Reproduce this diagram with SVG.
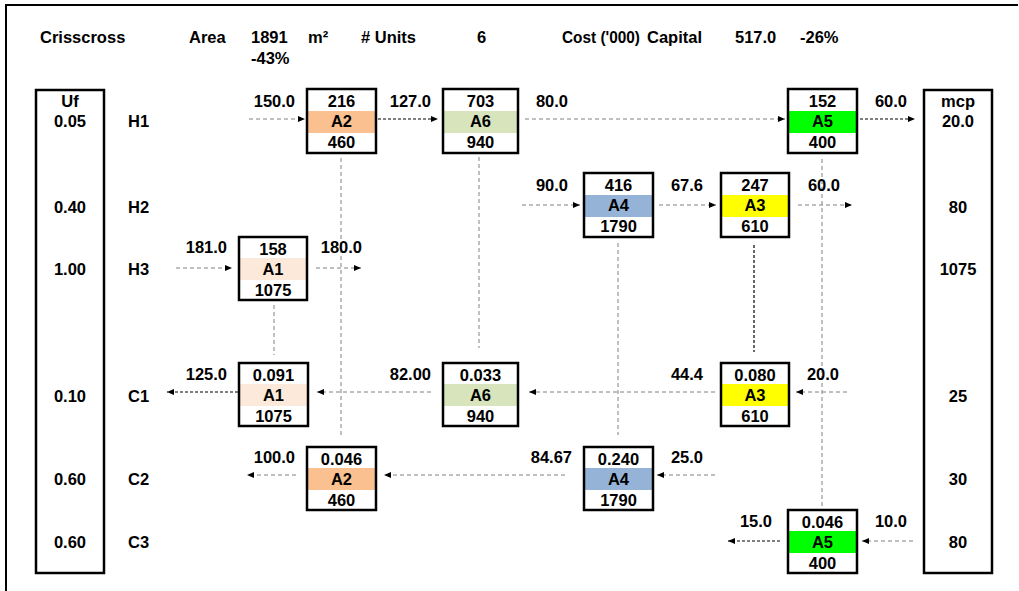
<svg xmlns="http://www.w3.org/2000/svg" width="1019" height="591" viewBox="0 0 1019 591">
<defs>
<marker id="ah" viewBox="0 0 7 6" markerWidth="7" markerHeight="6" refX="7" refY="3" orient="auto" markerUnits="userSpaceOnUse">
<path d="M0,0 L7,3 L0,6 z" fill="#000"/>
</marker>
<style>
text{font-family:"Liberation Sans",Arial,sans-serif;font-weight:bold;font-size:16.5px;fill:#000}
.c{text-anchor:middle}
.e{text-anchor:end}
.box{fill:none;stroke:#000;stroke-width:2.5}
.col{fill:#fff;stroke:#000;stroke-width:2.5}
.g{fill:none;stroke:#808080;stroke-width:1;stroke-dasharray:4 3}
.d{fill:none;stroke:#000;stroke-width:1.2;stroke-dasharray:3 2}
.arr{marker-end:url(#ah)}
</style>
</defs>
<rect width="1019" height="591" fill="#fff"/>
<path d="M6,591 V5 H1018" fill="none" stroke="#000" stroke-width="2"/>

<g id="header">
<text x="40" y="43">Crisscross</text>
<text x="189" y="43">Area</text>
<text x="251" y="43">1891</text>
<text x="251" y="64">-43%</text>
<text x="308" y="43">m²</text>
<text x="361" y="43"># Units</text>
<text x="477" y="43">6</text>
<text x="562" y="43" textLength="78" lengthAdjust="spacingAndGlyphs">Cost ('000)</text>
<text x="647" y="43">Capital</text>
<text x="735" y="43">517.0</text>
<text x="800" y="43">-26%</text>
</g>

<g id="uf-column">
<rect class="col" x="36" y="90" width="68" height="483"/>
<text class="c" x="70" y="107">Uf</text>
<text class="c" x="70" y="127">0.05</text>
<text class="c" x="70" y="213">0.40</text>
<text class="c" x="70" y="275">1.00</text>
<text class="c" x="70" y="402">0.10</text>
<text class="c" x="70" y="485">0.60</text>
<text class="c" x="70" y="548">0.60</text>
</g>

<g id="stream-labels">
<text x="128" y="127">H1</text>
<text x="128" y="213">H2</text>
<text x="128" y="275">H3</text>
<text x="128" y="402">C1</text>
<text x="128" y="485">C2</text>
<text x="128" y="548">C3</text>
</g>

<g id="mcp-column">
<rect class="col" x="924" y="90" width="68" height="483"/>
<text class="c" x="958" y="107">mcp</text>
<text class="c" x="958" y="127">20.0</text>
<text class="c" x="958" y="213">80</text>
<text class="c" x="958" y="275">1075</text>
<text class="c" x="958" y="402">25</text>
<text class="c" x="958" y="485">30</text>
<text class="c" x="958" y="548">80</text>
</g>

<g id="connectors">
<path class="g" d="M341,158 V438"/>
<path class="g" d="M274,305 V355"/>
<path class="g" d="M479,157 V348"/>
<path class="g" d="M618,243 V435"/>
<path class="d" d="M754,245 V352"/>
<path class="g" d="M822,159 V506"/>

<path class="g arr" d="M249,119 H305"/>
<path class="d arr" d="M378,119 H438"/>
<path class="g arr" d="M525,119 H785"/>
<path class="d arr" d="M860,119 H915"/>

<path class="g arr" d="M522,205 H580"/>
<path class="g arr" d="M659,205 H716"/>
<path class="g arr" d="M798,205 H852"/>

<path class="g arr" d="M176,268 H232"/>
<path class="g arr" d="M316,268 H361"/>

<path class="d arr" d="M238,392 H167"/>
<path class="g arr" d="M431,392 H317"/>
<path class="g arr" d="M715,392 H529"/>
<path class="g arr" d="M847,392 H796"/>

<path class="g arr" d="M296,475 H247"/>
<path class="g arr" d="M565,475 H384"/>
<path class="g arr" d="M715,475 H657"/>

<path class="d arr" d="M780,541 H728"/>
<path class="g arr" d="M913,541 H862"/>
</g>

<g id="flow-labels">
<text class="e" x="295" y="107">150.0</text>
<text class="e" x="431" y="107">127.0</text>
<text class="e" x="568" y="107">80.0</text>
<text class="e" x="907" y="107">60.0</text>
<text class="e" x="568" y="191">90.0</text>
<text class="e" x="703" y="191">67.6</text>
<text class="e" x="840" y="191">60.0</text>
<text class="e" x="227" y="253">181.0</text>
<text class="e" x="362" y="253">180.0</text>
<text class="e" x="227" y="380">125.0</text>
<text class="e" x="431" y="380">82.00</text>
<text class="e" x="703" y="380">44.4</text>
<text class="e" x="839" y="380">20.0</text>
<text class="e" x="295" y="463">100.0</text>
<text class="e" x="572" y="463">84.67</text>
<text class="e" x="703" y="463">25.0</text>
<text class="e" x="772" y="527">15.0</text>
<text class="e" x="907" y="527">10.0</text>
</g>

<g id="A2-hot">
<rect x="307" y="89" width="69" height="64" fill="#fff"/>
<rect x="307" y="111" width="69" height="22" fill="#FAC090"/>
<rect class="box" x="307" y="89" width="69" height="64"/>
<text class="c" x="341.5" y="107">216</text>
<text class="c" x="341.5" y="127">A2</text>
<text class="c" x="341.5" y="148">460</text>
</g>
<g id="A6-hot">
<rect x="443" y="89" width="75" height="64" fill="#fff"/>
<rect x="443" y="111" width="75" height="22" fill="#D8E4BC"/>
<rect class="box" x="443" y="89" width="75" height="64"/>
<text class="c" x="480.5" y="107">703</text>
<text class="c" x="480.5" y="127">A6</text>
<text class="c" x="480.5" y="148">940</text>
</g>
<g id="A5-hot">
<rect x="788" y="89" width="69" height="64" fill="#fff"/>
<rect x="788" y="111" width="69" height="22" fill="#00FF00"/>
<rect class="box" x="788" y="89" width="69" height="64"/>
<text class="c" x="822.5" y="107">152</text>
<text class="c" x="822.5" y="127">A5</text>
<text class="c" x="822.5" y="148">400</text>
</g>
<g id="A4-hot">
<rect x="584" y="173" width="69" height="64" fill="#fff"/>
<rect x="584" y="195" width="69" height="22" fill="#95B3D7"/>
<rect class="box" x="584" y="173" width="69" height="64"/>
<text class="c" x="618.5" y="191">416</text>
<text class="c" x="618.5" y="211">A4</text>
<text class="c" x="618.5" y="232">1790</text>
</g>
<g id="A3-hot">
<rect x="721" y="173" width="68" height="64" fill="#fff"/>
<rect x="721" y="195" width="68" height="22" fill="#FFFF00"/>
<rect class="box" x="721" y="173" width="68" height="64"/>
<text class="c" x="755" y="191">247</text>
<text class="c" x="755" y="211">A3</text>
<text class="c" x="755" y="232">610</text>
</g>
<g id="A1-hot">
<rect x="239" y="237" width="68" height="63" fill="#fff"/>
<rect x="239" y="258" width="68" height="22" fill="#FDE9D9"/>
<rect class="box" x="239" y="237" width="68" height="63"/>
<text class="c" x="273" y="255">158</text>
<text class="c" x="273" y="275">A1</text>
<text class="c" x="273" y="296">1075</text>
</g>

<g id="A1-cold">
<rect x="239" y="363" width="69" height="63" fill="#fff"/>
<rect x="239" y="384" width="69" height="22" fill="#FDE9D9"/>
<rect class="box" x="239" y="363" width="69" height="63"/>
<text class="c" x="273.5" y="381">0.091</text>
<text class="c" x="273.5" y="401">A1</text>
<text class="c" x="273.5" y="422">1075</text>
</g>
<g id="A6-cold">
<rect x="443" y="363" width="75" height="63" fill="#fff"/>
<rect x="443" y="384" width="75" height="22" fill="#D8E4BC"/>
<rect class="box" x="443" y="363" width="75" height="63"/>
<text class="c" x="480.5" y="381">0.033</text>
<text class="c" x="480.5" y="401">A6</text>
<text class="c" x="480.5" y="422">940</text>
</g>
<g id="A3-cold">
<rect x="721" y="363" width="68" height="63" fill="#fff"/>
<rect x="721" y="384" width="68" height="22" fill="#FFFF00"/>
<rect class="box" x="721" y="363" width="68" height="63"/>
<text class="c" x="755" y="381">0.080</text>
<text class="c" x="755" y="401">A3</text>
<text class="c" x="755" y="422">610</text>
</g>
<g id="A2-cold">
<rect x="307" y="447" width="69" height="63" fill="#fff"/>
<rect x="307" y="468" width="69" height="22" fill="#FAC090"/>
<rect class="box" x="307" y="447" width="69" height="63"/>
<text class="c" x="341.5" y="465">0.046</text>
<text class="c" x="341.5" y="485">A2</text>
<text class="c" x="341.5" y="506">460</text>
</g>
<g id="A4-cold">
<rect x="584" y="447" width="69" height="63" fill="#fff"/>
<rect x="584" y="468" width="69" height="22" fill="#95B3D7"/>
<rect class="box" x="584" y="447" width="69" height="63"/>
<text class="c" x="618.5" y="465">0.240</text>
<text class="c" x="618.5" y="485">A4</text>
<text class="c" x="618.5" y="506">1790</text>
</g>
<g id="A5-cold">
<rect x="788" y="510" width="69" height="63" fill="#fff"/>
<rect x="788" y="531" width="69" height="22" fill="#00FF00"/>
<rect class="box" x="788" y="510" width="69" height="63"/>
<text class="c" x="822.5" y="528">0.046</text>
<text class="c" x="822.5" y="548">A5</text>
<text class="c" x="822.5" y="569">400</text>
</g>
</svg>
